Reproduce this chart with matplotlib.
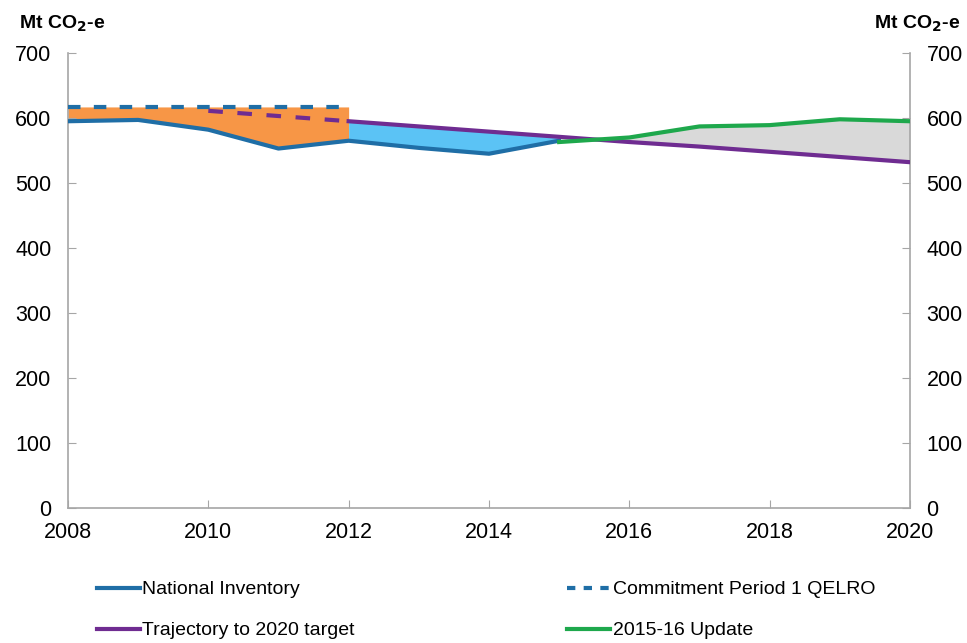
import numpy as np
import matplotlib.pyplot as plt
from matplotlib.lines import Line2D

plt.rcParams['font.family'] = ['Liberation Sans', 'DejaVu Sans']

# national inventory, 2008-2015
inv_years = [2008, 2009, 2010, 2011, 2012, 2013, 2014, 2015]
inv_values = [595, 597, 582, 553, 565, 554, 545, 565]

# commitment period 1 QELRO, 2008-2012
qelro_years = [2008, 2012]
qelro_values = [617, 617]

# trajectory to 2020 target
traj_years = [2010, 2011, 2012, 2013, 2014, 2015, 2016, 2017, 2018, 2019, 2020]
traj_values = [611, 603, 595, 587, 579, 571, 563, 556, 548, 540, 532]

# 2015-16 update
upd_years = [2015, 2016, 2017, 2018, 2019, 2020]
upd_values = [563, 570, 587, 589, 598, 595]

BLUE = '#1f6ea6'
ORANGE = '#f79646'
SKY = '#5bc3f5'
PURPLE = '#6f2c91'
GREEN = '#1ea84c'
GREY = '#d9d9d9'
SPINE = '#a6a6a6'

fig = plt.figure(figsize=(9.67, 6.43), dpi=100)
ax = fig.add_axes([0.0703, 0.21, 0.8707, 0.7076])

inv = dict(zip(inv_years, inv_values))
traj = dict(zip(traj_years, traj_values))

# orange: QELRO above inventory, 2008-2012
yrs = [y for y in inv_years if y <= 2012]
ax.fill_between(yrs, [qelro_values[0]] * len(yrs), [inv[y] for y in yrs],
                color=ORANGE, lw=0, zorder=1)

# light blue: trajectory above inventory, 2012-2015
yrs = [y for y in inv_years if y >= 2012]
ax.fill_between(yrs, [traj[y] for y in yrs], [inv[y] for y in yrs],
                color=SKY, lw=0, zorder=1)

# grey: update above trajectory
gx = np.array(upd_years, dtype=float)
g_up = np.array(upd_values, dtype=float)
g_tr = np.array([traj[y] for y in upd_years], dtype=float)
ax.fill_between(gx, g_up, g_tr, where=g_up >= g_tr, interpolate=True,
                color=GREY, lw=0, zorder=1)

ax.plot(inv_years, inv_values, color=BLUE, lw=3, zorder=3)
ax.plot(qelro_years, qelro_values, color=BLUE, lw=3, ls=(0, (3, 3.2)), zorder=3)
tr_dash = [y for y in traj_years if y <= 2012]
tr_solid = [y for y in traj_years if y >= 2012]
ax.plot(tr_dash, [traj[y] for y in tr_dash], color=PURPLE, lw=3,
        ls=(0, (3.5, 3.5)), zorder=3)
ax.plot(tr_solid, [traj[y] for y in tr_solid], color=PURPLE, lw=3, zorder=3)
ax.plot(upd_years, upd_values, color=GREEN, lw=3, zorder=4)

ax.set_xlim(2008, 2020)
ax.set_ylim(0, 700)
ax.set_xticks(range(2008, 2021, 2))
ax.set_yticks(range(0, 701, 100))

for side in ['left', 'right', 'bottom']:
    ax.spines[side].set_color(SPINE)
    ax.spines[side].set_linewidth(1.2)
ax.spines['top'].set_visible(False)

ax.tick_params(axis='both', direction='in', color=SPINE, length=6,
               labelsize=15.5, labelcolor='black')
ax.tick_params(axis='y', right=True, labelright=True, pad=12)
ax.tick_params(axis='x', pad=10)

fig.text(0.02, 0.955, 'Mt CO$_\\mathbf{2}$-e', fontsize=14, fontweight='bold')
fig.text(0.993, 0.955, 'Mt CO$_\\mathbf{2}$-e', fontsize=14, fontweight='bold', ha='right')

handles = [
    Line2D([], [], color=BLUE, lw=3),
    Line2D([], [], color=BLUE, lw=3, ls=(0, (2, 2))),
    Line2D([], [], color=PURPLE, lw=3),
    Line2D([], [], color=GREEN, lw=3),
]
labels = ['National Inventory', 'Commitment Period 1 QELRO',
          'Trajectory to 2020 target', '2015-16 Update']
# ncol=2 fills columns first
order = [0, 2, 1, 3]
fig.legend([handles[i] for i in order], [labels[i] for i in order],
           loc='upper left', bbox_to_anchor=(0.082, 0.124), ncol=2,
           frameon=False, fontsize=14, handlelength=2.2, handletextpad=0.15,
           columnspacing=10.9, labelspacing=1.2)

fig.savefig('out.png', dpi=100)
